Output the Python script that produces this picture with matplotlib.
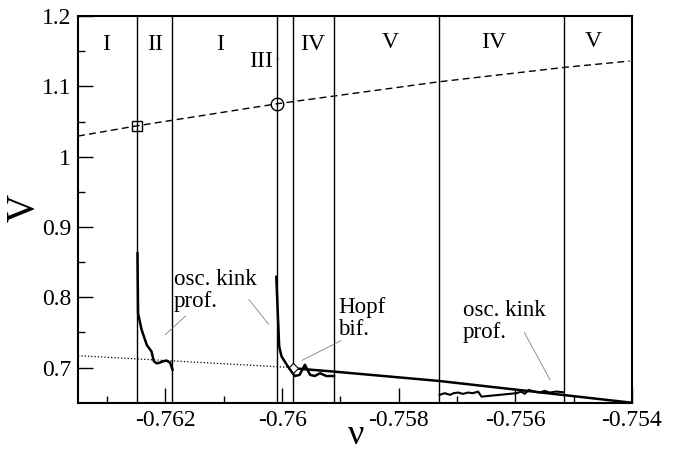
import matplotlib
matplotlib.use('Agg')
import matplotlib.pyplot as plt

plt.rcParams['font.family'] = ['Liberation Serif', 'DejaVu Serif']

# region boundaries (vertical lines)
boundaries = [-0.76248, -0.76188, -0.76009, -0.75981, -0.75911, -0.75731, -0.75516]

# region labels
region_names = ['I', 'II', 'I', 'IV', 'V', 'IV', 'V']
region_nu = [-0.76301, -0.76217, -0.76107, -0.75947, -0.75815, -0.75638, -0.75467]
region_V = [1.16, 1.16, 1.16, 1.16, 1.162, 1.162, 1.164]

# upper dashed branch
dash_nu = [-0.7635, -0.76248, -0.76009, -0.75731, -0.75516, -0.75404]
dash_V = [1.0293, 1.0440, 1.0752, 1.1065, 1.1270, 1.1360]

# lower dotted branch and solid branch
dot_nu = [-0.7635, -0.75981]
dot_V = [0.717, 0.700]
solid_nu = [-0.75981, -0.75911, -0.75731, -0.754]
solid_V = [0.699, 0.6943, 0.681, 0.650]

# oscillating kink profile curves
c1_nu = [-0.76248, -0.76247, -0.76241, -0.76232, -0.76224, -0.7622, -0.76215,
         -0.7621, -0.76204, -0.76198, -0.76192, -0.76188]
c1_V = [0.8627, 0.777, 0.754, 0.732, 0.723, 0.709, 0.706, 0.707, 0.709, 0.710, 0.707, 0.697]

c2_nu = [-0.7601, -0.76005, -0.76001, -0.75992, -0.75982, -0.75978, -0.7597, -0.75961,
         -0.75952, -0.75944, -0.75935, -0.75924, -0.75911]
c2_V = [0.829, 0.730, 0.716, 0.704, 0.692, 0.688, 0.6897, 0.704, 0.6897, 0.688, 0.692, 0.688, 0.688]

c3_nu = [-0.75730, -0.75721, -0.75712, -0.75706, -0.75698, -0.7569, -0.75681, -0.75673,
         -0.75664, -0.75658, -0.75598, -0.7559, -0.75584, -0.75577, -0.75567, -0.75558,
         -0.7555, -0.75541, -0.7553, -0.75518]
c3_V = [0.6612, 0.6636, 0.6612, 0.6636, 0.6645, 0.6626, 0.6645, 0.6636, 0.6659, 0.6587,
        0.6636, 0.6659, 0.6626, 0.6683, 0.6659, 0.6645, 0.6669, 0.6645, 0.6659, 0.665]

fig = plt.figure(figsize=(6.76, 4.51), dpi=100)
ax = fig.add_axes([0.1154, 0.107, 0.8195, 0.8574])

for b in boundaries:
    ax.axvline(b, color='black', linewidth=1.0)

ax.plot(dash_nu, dash_V, color='black', linestyle=(0, (5, 3)), linewidth=1.0)
ax.plot(dash_nu[1], dash_V[1], marker='s', markersize=7, markerfacecolor='none',
        markeredgecolor='black', markeredgewidth=1.0)
ax.plot(dash_nu[2], dash_V[2], marker='o', markersize=9, markerfacecolor='none',
        markeredgecolor='black', markeredgewidth=1.0)
ax.plot(dot_nu, dot_V, color='black', linestyle=':', linewidth=0.9)
ax.plot(solid_nu, solid_V, color='black', linewidth=1.8)
ax.plot(dot_nu[1], dot_V[1], marker='D', markersize=5, markerfacecolor='white',
        markeredgecolor='black', markeredgewidth=0.8)
ax.plot(c1_nu, c1_V, color='black', linewidth=1.8)
ax.plot(c2_nu, c2_V, color='black', linewidth=1.8)
ax.plot(c3_nu, c3_V, color='black', linewidth=1.5)

for name, x, y in zip(region_names, region_nu, region_V):
    ax.text(x, y, name, ha='center', va='center', fontsize=17)

# annotations with thin grey leader lines
lead = dict(arrowstyle='-', color='gray', linewidth=0.6)
ax.text(-0.76036, 1.136, 'III', ha='center', va='center', fontsize=17)
ax.annotate('', xy=(-0.75999, 1.139), xytext=(-0.76015, 1.139),
            arrowprops=dict(arrowstyle='-', color='gray', linewidth=0.6, linestyle=':'))

ax.text(-0.76186, 0.7868, 'osc. kink\nprof.', ha='left', va='baseline', fontsize=16.5, linespacing=1.05)
ax.annotate('', xy=(-0.76204, 0.744), xytext=(-0.76162, 0.776), arrowprops=lead)
ax.annotate('', xy=(-0.7602, 0.7583), xytext=(-0.7606, 0.800), arrowprops=lead)

ax.text(-0.75904, 0.7465, 'Hopf\nbif.', ha='left', va='baseline', fontsize=16.5, linespacing=1.05)
ax.annotate('', xy=(-0.7597, 0.7085), xytext=(-0.75895, 0.740), arrowprops=lead)

ax.text(-0.7569, 0.7418, 'osc. kink\nprof.', ha='left', va='baseline', fontsize=16.5, linespacing=1.05)
ax.annotate('', xy=(-0.75538, 0.6787), xytext=(-0.75587, 0.7536), arrowprops=lead)

ax.set_xlim(-0.7635, -0.754)
ax.set_ylim(0.65, 1.2)
ax.set_xticks([-0.762, -0.76, -0.758, -0.756, -0.754])
ax.set_xticklabels(['-0.762', '-0.76', '-0.758', '-0.756', '-0.754'])
ax.set_xticks([-0.763, -0.761, -0.759, -0.757, -0.755], minor=True)
ax.set_yticks([0.7, 0.8, 0.9, 1.0, 1.1, 1.2])
ax.set_yticklabels(['0.7', '0.8', '0.9', '1', '1.1', '1.2'])
ax.set_yticks([0.75, 0.85, 0.95, 1.05, 1.15], minor=True)
ax.tick_params(which='both', direction='in', top=False, right=False, labelsize=17, width=1.0)
ax.tick_params(which='major', length=11, pad=5)
ax.tick_params(which='minor', length=5)
for s in ax.spines.values():
    s.set_linewidth(1.5)

fig.text(24 / 676, 1 - 208 / 451, 'V', rotation=90, ha='center', va='center', fontsize=28)
fig.text(356 / 676, 1 - 435 / 451, 'ν', ha='center', va='center', fontsize=26)

fig.savefig('out.png', dpi=100)
